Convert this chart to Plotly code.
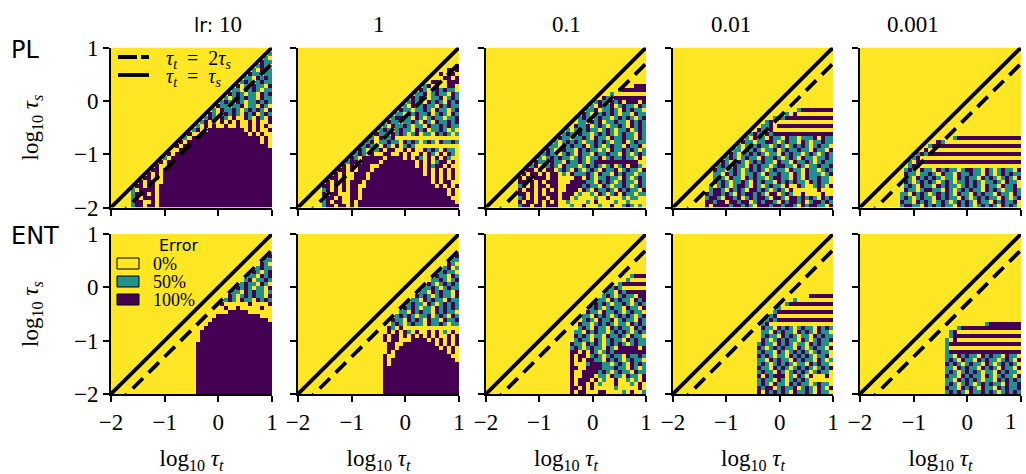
import re
import plotly.graph_objects as go

# Error on a 40x40 grid, bottom row first.
# "." = 0 %, "o" = 50 %, "x" = 100 %; a number repeats the letter before it.
# Rows are right-aligned, anything left of a row and any missing row is 0 %.
PL_LR10 = [
 "oxx.x x. x28","oxx.. x. x28","ox.xx x. x28","oxxx. x. x28","o.xxx x. x28",
 "xx.x x. x28","x.xx.. x27","xx.x. x27","x.x. x27","xx. x27","x.. x26","x. x26",
 "o. x25","x. x24",".. x23","x. x21 .","x. x18 .x.","o. x16 x.x.","x.. x12 .x.x..",
 "ox.. x8 x.x.x..x","o.x.x ..x.. x..x. x.x.","ox.o. x.x.x ..x.x ..x","oxo.x o.x.. xo.xo .x",
 "xo.ox oxo.x ox.ox o","o.xoo xo.ox oxo.x","xoo.o ox.oo .xo.","oxo.x o.oox oxo","o.oxo xoo.x oo",
 "xoxo. oo.xo x","oo.xo xo.oo","x.oox oo.x","oxo.o xoo","oo.xo xo","xoo.o o","o.xoo","oxo.","xoo","o.","o"]
PL_LR1 = [
 "oxx.x x. x. x25","ox.xx .. x. x24 .","oxx.x ..xx. x22 ..","x.xx. ..xx. x21 .x.","ox.x. x.xx. x20 x.x.",
 "xx.x. x.xx. . x17 .x.x.x","x.x.x .xxx. x16 .x.xx..","xx.x. .xxx. x14 x.x.x.x.","x.x.. xxx. x13 .x.x.x.x.","xx.x. xxx. x11 x.x.x.x.x.",
 "x.x.x xx.. x9 .x.xoxx.x..","oxx.x xxx. x7 x.x.x.oxx.x.","xo.xx xxx. x4 .x.xo.x.x.xo..","oxo.x ..xx. .x.x. .x.xo .x.xo .","xo.oo x.xx. .x.x. .xoxo .xoo.",
 "oxoo. xo.x. oxo. .10","ox.oo xoo.x oxo.o xo.xo oxo","o.xoo x .16","xoo.x oxo.o x.oo. xoxo. o","oxo.o xoo.x ox.oo xo.o.",
 "o.xoo xo.oo .xoox oxoo","xoo.o oxo.x o.xoo xox","oxxoo .xo.o xoo.o ox","oo.xo xoox. oxo.x o","xoo.o oxo.x oo.ox",
 "o.xoo xoo.x oxoo","oxoo. xoxo. xox","xoxo. oox.o xo","oox.o xoo.x o","xo.ox oxoo.","ox.x. .xx.","xx..x xx","..xx. x","x.xx.","x.x","x"]
PL_LR01 = [
 "oxx.x x.xx x. ..o.. x...o ..x.. oxo.o .","x.xx. x.x. x. .o... .o.x. ...o. .o... .","ox.x. xx.x x. xx.o. ...o. .x... o.oo. .","xx.x. x.xx x. xxx.o ..o.x o.ox. xoo.o o",
 "x.xx. x.x. x. .xxx. xo.xo oxo.x oxoo. x","ox.x. xx.x x. .xxxx oxoo. xo.oo xo.ox o","xx.x. x.xx x. ..xxx xoo.x oxo.o xoo.x o","x.x.x xx.x x. ...xx .xo.o oxoo. xo.ox o",
 "x.xx. x.x x. o.xoo oxo.x oo.xo xoo.o o","xx.x. xx.ox o.xo. oxo.x oox.o xoo.x","ox.oo xo.xo oo.ox oxo.o x.ox. xxo.","xoo.x oo.xo oxo.o x x10 ..",
 "o.oxo xoo.o xo.oo x.oxo oxoo. x.","oxoo. oxo.x oo.xo oxoo. xo.ox o","xo.ox oo.xo xoo.o .xoox oxo.o","oo.xo xoox. oxo.o xoo.x oox.",
 "o.oxo xo.oo xoxo. oox.o xoo","xoo.o oxo.x oo.xo oxoo. xo","oxo.x oo.ox oxo.o xoo.x o","o.oxo xoo.o xo.oo x.oxo","xoox. oxo.o oxo.x oxo",
 "oo.xo x.oox oo.xo xo","oxo.o xoo.o xoxo. ox","xo.oo xoxo. oo.xo o","oox.o oxo.x oxoo.","o.xoo x.oxo o.xo","oxo.x ox.xx x.x",
 "xo.xx xxxxx x","o .8","o x6",". x3"]
PL_LR001 = [
 "x.xxx xoxxo xo.xx xoxxo xxo.x oxxoo .x","xxoxx .xxox x.oxo xxo.x oxxox .oxxo xo","oxxo. xxox. oxoxx o.xxo .xxox oxo.x ox","xoxxo xo.xo xxoxo .xx.o xo ..x.. ..x..",
 "oxxo. xoxo. xxoxo .oxo. x ..... .x...","o.oxo .oxxo .xo.o xoo.x ..xo. .oxo. x","xoxo. ooxo. xoxoo .xoxo xoo.x oxoo.","oxo.x oo.xo xoo.o xxoo. xo.xo oxoo.",
 "oo.xo xo.oo xo.xo oxoo. xo.xo oo.ox","xoo.o xo.ox oxo.o xoo.x oo.xo o.oxo","oxo.x oo.xo xoo.o xxoo. xo.oo xoox","xo.ox o.oxo xoo.x oo.xo oxo.o xoo",
 "oxo.o xoo.x ooxo. oxo.x oo.oo xo","xo.oo xoxo. oo.xo xoo.o xo.ox o","oo.xo xo.oo x.oxo oxoo. xoo.x","o.oxo xoo.o xo.ox oxo.o xoo.","xoo.o oxxo. oxoo. xo.oo xoo","o.xoo .xoo. xoo.o oox.x oo",
 "oxo.x o x15","xo.x .15","oox. x14","ox. .14","oxo x12","o.x .9","ox x7"]
PL_LR0001 = [
 "oxxoo .xoxo xoo.x oxo.o xoxo. xoxo.","xoo.x oxo.o xo.ox oxo.x oo.xo xoox.","oxo.o xoo.x oxoo. xo.ox oxoo. xo.ox","oo.xo xo.ox oxo.x oo.xo xoo.x oo.xo",
 "xoo.o xxoo. xo.ox oxoo. xoxo. ooxo","oxo.x oo.xo xoo.o xoxo. xoo.x oox.","xo.ox oxo.o xo.oo xoxo. ooxo. xoo.","oo.xo xoxo. oo.xo xoo.x oxo.o xo.x",
 "xoo.o oxo.x oo.xo oxoo. xo.ox oxoo","oxo.x oo.xo xoo.o xxoo. xo.ox oo.x","oxo .25","o.x x25","ox. .24","oxo x23",".x .23","ox x21","xo .19","o x16"]

ENT_LR10 = [
 "x19","x19","x19","x19","x19","x19","x19","x19","x19","x19","x19","x19","x19",". x18","x18","x18","x17",". x16",". x14 .",
 ".. x11 ...",".... x5 ......","..x.. x.... .x..","x.... ..x.. ..x","oxo.x oo.xo xo","xo.ox oxoo. x","oo.xo xoo.o","xoxo. oo.x","oxoo. xo.","ox.oo xo","oo.xo x","xo.ox","oxoo","xo.","oo","x"]
ENT_LR1 = [
 "x19","x19","x19","x19","x19","x19","x19","x. x17","x. x16 .","x.. x14 ..",".x. x13 .x.",".xx. x10 .x.x.",".xx.. x7 x.x.x.x","x.xx. .. x3 x.x.x.x.x",
 "x.xx. x.x.x .x.x. .x.x","x.x.x o.x.. x.x.o .x.","xo.x. .13","oxo.o xoo.x ooxo. oo","xoo.x oxo.x oo.xo ox","oxoxo .oox. oxo.x o",
 "oo.xo xoo.x oxoo.","xoxo. oo.xo xoxo","oxoo. xo.ox oxo","oo.xo xoo.x oo","xoxo. oxoo. x","oo.xo xoo.x","ooxo. oxoo","xo.ox oxo","ooxo. ox","xoo.x o","oxoo.","ox.o","xo.","oo","x"]
ENT_LR01 = [
 "x.xx. ..xx. ...o. x..o","xx.x. x.... .o... ..x.","x.xx. x.o.. .x... o.x.","x.xxx .x.o. .x..o .o.x","x..xx x.oo. xoo.x oo.x",
 "x..xx xxoxo .oxoo .xoo","xx..x xxxoo oxoo. xo.o","x...o xxxoo .oxo. xoxo","x.x.x xoo.x oxo.o xoo.","x.xx. oxo.o xoo.x ooxo",
 "xx.x. xo.ox o x8","oxo.o xoo.x o.xxx xx.x","xoo.x oxo.o xoxo. oxoo","oxoo. xo.ox oo.xo xoo","xoxo. oo.xo oxo.x oo.","oo.xo xoo.o xoxo. oxo",
 "oxo.x oo.xo xoo.x ox","xoo.o xoxo. oo.xo xo","oxo.x oox.o xoo.x o","oo.xo xo.ox oxo.o x","xoo.x ooxo. oxoo.","oxo.o xoo.x oo.x",
 "xoxo. ooxo. oxo","oo.xo xoo.x ox","oxo.o xoo.x x","oo.xo x x4","oxo .6","ox x5","o .4","oxxx"]
ENT_LR001 = [
 "x.xox oxo.x ooxo. xoo.","xoxx. oxoox .oxo. xo.x","oxo.x oo.xo xoo.o xoo.","oxoo. xo.ox oxo.. ....","x.xox xx.o. xo.x. ..x.",
 "oxoo. xo.ox oxo.o xoo.","xoo.x oxo.o xoxo. oxox","oxo.o xoxo. oo.xo xoo.","oo.xo xoo.x oxoo. xo.o","xoxo. oo.xo xoxo. oox.","oxoo. xo.ox oxo.o xoo.",
 "xo.ox oxoo. xo.ox oo.x","oxoo. xoxo. oo.xo xoo.","xo.ox oxoo. xo.ox oox","oxoo. xoxo. oo.xo xoo","oo.xo xoo.x oxo.x oo.","xoo.x oxo.o xoo.x oxo",
 "ox. .15","oxo x14","ox .14","o x14","o. .12","o x11","o. .8",". x6"]
ENT_LR0001 = [
 "oxoxo .xoox oxo.o xoxo","xoo.x oxo.x oo.xo xoox","oxo.o xo.ox oxoo. xoox","oo.xo xoxo. oo.xo xoxo","xoo.x oxoo. xo.ox oo.x","oxo.o xoxo. oo.xo xoo.",
 "oo.xo xoo.x oxo.x oo.x","xoxo. oxoo. xo.ox oxo.","oxo.x oo.xo xoo.o xo.x","oo.xo xoo.x oxoo. xoo.",
 "ox x17","o. .17","ox x17","o.x .16","ox x16","ox. .15","o x15","ox x7"]

ROW_LABELS = ["PL", "ENT"]
COL_LABELS = ["lr: 10", "1", "0.1", "0.01", "0.001"]
PANELS = [[PL_LR10, PL_LR1, PL_LR01, PL_LR001, PL_LR0001],
          [ENT_LR10, ENT_LR1, ENT_LR01, ENT_LR001, ENT_LR0001]]
TICK_VALS = [-2, -1, 0, 1]
TICK_TEXT = ["\u22122", "\u22121", "0", "1"]
EQUAL_X = [-2, 1]
EQUAL_Y = [-2, 1]
DOUBLE_X = [-1.893, 1]
DOUBLE_Y = [-2.194, 0.699]
LEGEND_ERRORS = ["0%", "50%", "100%"]
LINE_LABELS = ["<i>\u03c4<sub>t</sub></i>\u2002=\u20022<i>\u03c4<sub>s</sub></i>",
               "<i>\u03c4<sub>t</sub></i>\u2002=\u2002<i>\u03c4<sub>s</sub></i>"]
GRID = [-2 + 0.075 * (i + 0.5) for i in range(40)]

YELLOW, TEAL, PURPLE = "#fde725", "#21918c", "#440154"
LEVEL = {".": 0, "o": 0.5, "x": 1}
SERIF = "Liberation Serif"
SANS = "DejaVu Sans"


def expand(row):
    cells = []
    for ch, n in re.findall(r"([.ox])(\d*)", row):
        cells += [LEVEL[ch]] * (int(n) if n else 1)
    cells = cells[-40:]
    return [0] * (40 - len(cells)) + cells


def to_grid(rows):
    grid = [expand(r) for r in rows[:40]]
    return grid + [[0] * 40 for _ in range(40 - len(grid))]


W, H = 1026, 474
X_EDGES = [(111, 272), (298, 459), (486, 646), (673, 833), (860, 1021)]
Y_EDGES = [(47.5, 207.5), (234, 394)]
fig = go.Figure()
n = 0
for r, row in enumerate(PANELS):
    for c, rows in enumerate(row):
        n += 1
        sx = "" if n == 1 else str(n)
        fig.add_trace(go.Heatmap(x=GRID, y=GRID, z=to_grid(rows), xaxis="x" + sx, yaxis="y" + sx,
                                 zmin=0, zmax=1, showscale=False, hoverinfo="skip",
                                 colorscale=[[0, YELLOW], [0.5, TEAL], [1, PURPLE]]))
        fig.add_trace(go.Scatter(x=DOUBLE_X, y=DOUBLE_Y, mode="lines", xaxis="x" + sx, yaxis="y" + sx,
                                 line=dict(color="black", width=3.8, dash="14.5px,8px"), showlegend=False))
        fig.add_trace(go.Scatter(x=EQUAL_X, y=EQUAL_Y, mode="lines", xaxis="x" + sx, yaxis="y" + sx,
                                 line=dict(color="black", width=3.8), showlegend=False))
        ax = dict(range=[-2, 1], tickmode="array", tickvals=TICK_VALS, ticktext=TICK_TEXT, automargin=False,
                  showgrid=False, zeroline=False, showline=True, linecolor="black", linewidth=2,
                  ticks="outside", ticklen=6, tickwidth=1.8, tickcolor="black", ticklabeloverflow="allow",
                  tickfont=dict(family=SERIF, size=23, color="black"))
        xa = dict(ax, domain=[X_EDGES[c][0] / W, X_EDGES[c][1] / W], anchor="y" + sx,
                  showticklabels=r == 1)
        ya = dict(ax, domain=[1 - Y_EDGES[r][1] / H, 1 - Y_EDGES[r][0] / H], anchor="x" + sx,
                  showticklabels=c == 0)
        if r == 1:
            xa["title"] = dict(text="log<sub>10</sub> <i>\u03c4<sub>t</sub></i>", standoff=16,
                               font=dict(family=SERIF, size=23, color="black"))
        if c == 0:
            ya["title"] = dict(text="log<sub>10</sub> <i>\u03c4<sub>s</sub></i>", standoff=29,
                               font=dict(family=SERIF, size=23, color="black"))
        fig.layout["xaxis" + sx] = xa
        fig.layout["yaxis" + sx] = ya
# The last tick label of the lower right panel would overflow the page edge, so it is placed just inside.
fig.layout["xaxis10"].ticktext = ["\u22122", "\u22121", "0", ""]

ann = [dict(x=1019 / W, y=1 - 421 / H, text=TICK_TEXT[3], xref="paper", yref="paper", yanchor="middle",
            showarrow=False, font=dict(family=SERIF, size=23, color="black"))]
for (x0, x1), label in zip(X_EDGES, COL_LABELS):
    text = label
    if label.startswith("lr:"):
        text = "<span style='font-family:DejaVu Sans;font-size:19px'>lr:</span> 10"
    ann.append(dict(x=(x0 + x1) / 2 / W, y=1 - 24 / H, text=text, xref="paper", yref="paper", yanchor="middle",
                    showarrow=False, font=dict(family=SERIF, size=23, color="black")))
for y, label in zip((50, 236), ROW_LABELS):
    ann.append(dict(x=9 / W, y=1 - y / H, text=label, xref="paper", yref="paper", xanchor="left", yanchor="middle",
                    showarrow=False, font=dict(family=SANS, size=24, color="black")))
ann.append(dict(x=157 / W, y=1 - 245 / H, text="Error", xref="paper", yref="paper", showarrow=False, yanchor="middle",
                font=dict(family=SANS, size=16, color="black")))
shapes = []
for y0, col, label in zip((258, 276, 294), (YELLOW, TEAL, PURPLE), LEGEND_ERRORS):
    shapes.append(dict(type="rect", xref="paper", yref="paper", x0=117 / W, x1=139 / W,
                       y0=1 - y0 / H, y1=1 - (y0 + 11) / H, fillcolor=col,
                       line=dict(color="black", width=1)))
    ann.append(dict(x=151 / W, y=1 - (y0 + 6) / H, text=label, xref="paper", yref="paper", yanchor="middle",
                    xanchor="left", showarrow=False, font=dict(family=SERIF, size=18, color="black")))
for y, dash, label in zip((57, 75), ("19px,4px", "solid"), LINE_LABELS):
    shapes.append(dict(type="line", xref="paper", yref="paper", x0=118 / W, x1=149 / W,
                       y0=1 - y / H, y1=1 - y / H, line=dict(color="black", width=3.8, dash=dash)))
    ann.append(dict(x=164 / W, y=1 - (y + 2) / H, text=label, xref="paper", yref="paper", yanchor="middle",
                    xanchor="left", showarrow=False, font=dict(family=SERIF, size=20, color="black")))

fig.update_layout(width=W, height=H, margin=dict(l=0, r=0, t=0, b=0), paper_bgcolor="white",
                  plot_bgcolor="white", annotations=ann, shapes=shapes, hovermode=False, showlegend=False)
fig.write_html("out.html", config=dict(displayModeBar=False),
               post_script="document.body.style.margin='0';document.body.style.overflow='hidden';")
